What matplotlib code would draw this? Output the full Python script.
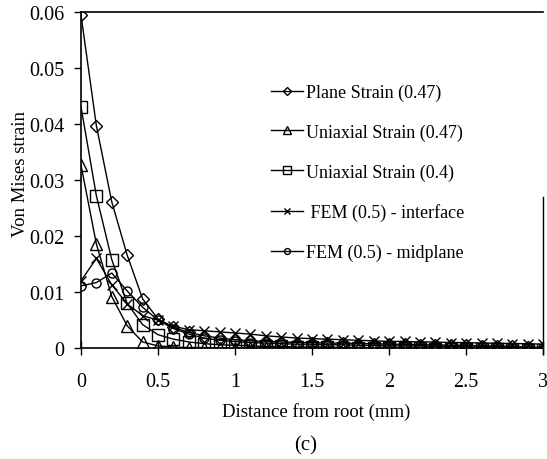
import numpy as np
import matplotlib
matplotlib.use('Agg')
import matplotlib.pyplot as plt

# distance from root (mm), one sample every 0.1 mm
distance = [0.0, 0.1, 0.2, 0.3, 0.4, 0.5, 0.6, 0.7, 0.8, 0.9,
            1.0, 1.1, 1.2, 1.3, 1.4, 1.5, 1.6, 1.7, 1.8, 1.9,
            2.0, 2.1, 2.2, 2.3, 2.4, 2.5, 2.6, 2.7, 2.8, 2.9, 3.0]

plane_strain_047 = [0.0595, 0.0397, 0.0261, 0.0166, 0.0088, 0.0052, 0.0037, 0.0028, 0.0022, 0.0018,
                    0.0015, 0.0013, 0.0012, 0.0011, 0.0010, 0.0010, 0.0009, 0.0009, 0.0008, 0.0008,
                    0.0007, 0.0007, 0.0006, 0.0006, 0.0005, 0.0005, 0.0004, 0.0004, 0.0003, 0.0002, 0.0001]

uniaxial_047 = [0.0327, 0.0186, 0.0092, 0.0040, 0.0011, 0.0004, 0.0002, 0.0001, 0.0001, 0.0000,
                0.0000, 0.0000, 0.0000, 0.0000, 0.0000, 0.0000, -0.0001, -0.0001, -0.0001, -0.0001,
                -0.0001, -0.0002, -0.0002, -0.0002, -0.0002, -0.0003, -0.0003, -0.0003, -0.0004, -0.0004, -0.0004]

uniaxial_04 = [0.0431, 0.0272, 0.0158, 0.0080, 0.0042, 0.0024, 0.0016, 0.0011, 0.0008, 0.0006,
               0.0005, 0.0004, 0.0003, 0.0003, 0.0002, 0.0002, 0.0002, 0.0001, 0.0001, 0.0001,
               0.0000, 0.0000, 0.0000, -0.0001, -0.0001, -0.0001, -0.0002, -0.0002, -0.0002, -0.0003, -0.0003]

fem_interface = [0.0120, 0.0160, 0.0113, 0.0079, 0.0058, 0.0050, 0.0039, 0.0033, 0.0031, 0.0029,
                 0.0027, 0.0025, 0.0022, 0.0020, 0.0018, 0.0017, 0.0016, 0.0015, 0.0014, 0.0013,
                 0.0012, 0.0012, 0.0011, 0.0011, 0.0010, 0.0010, 0.0009, 0.0009, 0.0008, 0.0008, 0.0007]

fem_midplane = [0.0111, 0.0117, 0.0134, 0.0102, 0.0073, 0.0050, 0.0035, 0.0025, 0.0018, 0.0014,
                0.0012, 0.0010, 0.0009, 0.0008, 0.0007, 0.0007, 0.0006, 0.0006, 0.0005, 0.0005,
                0.0004, 0.0004, 0.0004, 0.0003, 0.0003, 0.0002, 0.0002, 0.0002, 0.0001, 0.0001, 0.0000]

labels = ['Plane Strain (0.47)', 'Uniaxial Strain (0.47)', 'Uniaxial Strain (0.4)',
          ' FEM (0.5) - interface', 'FEM (0.5) - midplane']

x_ticks = [0, 0.5, 1, 1.5, 2, 2.5, 3]
x_tick_labels = ['0', '0.5', '1', '1.5', '2', '2.5', '3']
y_ticks = [0, 0.01, 0.02, 0.03, 0.04, 0.05, 0.06]
y_tick_labels = ['0', '0.01', '0.02', '0.03', '0.04', '0.05', '0.06']

plt.rcParams['font.family'] = ['Liberation Serif', 'DejaVu Serif']

fig = plt.figure(figsize=(5.47, 4.60), dpi=100)
ax = fig.add_axes([0.148, 0.241, 0.845, 0.731])

series = [plane_strain_047, uniaxial_047, uniaxial_04, fem_interface, fem_midplane]
markers = ['D', '^', 's', 'x', 'o']
sizes = [6, 8, 8, 7.5, 6.5]

for values, marker, size, label in zip(series, markers, sizes, labels):
    ax.plot(distance, values, color='black', linewidth=1.0, marker=marker,
            markersize=size, markerfacecolor='none', markeredgecolor='black',
            markeredgewidth=1.0, label=label)

ax.set_xlim(0, 3)
ax.set_ylim(0, 0.06)
ax.set_xticks(x_ticks)
ax.set_xticklabels(x_tick_labels, fontsize=14.5)
ax.set_yticks(y_ticks)
ax.set_yticklabels(y_tick_labels, fontsize=14.5)
ax.tick_params(axis='x', direction='inout', length=10, width=1.0, pad=12)
ax.tick_params(axis='y', direction='out', length=5, width=1.0, pad=7)

for side in ['left', 'bottom', 'top']:
    ax.spines[side].set_linewidth(1.2)
ax.spines['right'].set_bounds(-0.001, 0.027)
ax.spines['right'].set_linewidth(1.0)

ax.set_xlabel('Distance from root (mm)', fontsize=13.5, va='center')
ax.xaxis.set_label_coords(0.51, -0.1875)
ax.set_ylabel('Von Mises strain', fontsize=13.5, va='center')
ax.yaxis.set_label_coords(-0.13, 0.52)
fig.text(0.558, 0.03, '(c)', fontsize=15, ha='center', va='center')

ax.legend(loc='upper left', bbox_to_anchor=(0.375, 0.835), frameon=False, fontsize=13,
          handlelength=1.8, handletextpad=0.15, labelspacing=1.25, markerscale=0.65)

fig.savefig('out.png', dpi=100)
